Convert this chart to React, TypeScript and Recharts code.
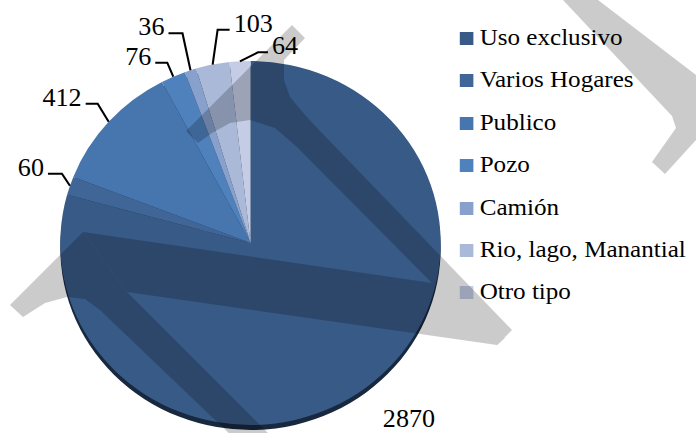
import React from "react"
import { PieChart, Pie, Cell, Legend } from "recharts"

// water supply categories and household counts
const categories = [
  "Uso exclusivo",
  "Varios Hogares",
  "Publico",
  "Pozo",
  "Camión",
  "Rio, lago, Manantial",
  "Otro tipo",
]
const households = [2870, 60, 412, 76, 36, 103, 64]

const COLORS = ["#385a86", "#3f6697", "#4775ad", "#4f81bd", "#87a0cc", "#aab9d8", "#c4cde5"]

// leader line elbows (image px): dx, dy from arc, horizontal run, side
const LABEL_NUDGE = [
  { dx: 17, dy: 39, len: 0, side: 1, line: false },
  { dx: -8, dy: -12, len: 14, side: -1, line: true },
  { dx: -11, dy: -18, len: 12, side: -1, line: true },
  { dx: -6, dy: -14, len: 12, side: -1, line: true },
  { dx: -8, dy: -37, len: 14, side: -1, line: true },
  { dx: 5, dy: -35, len: 12, side: 1, line: true },
  { dx: 18, dy: -9, len: 10, side: 1, line: true },
]

const SX = 1.045 // source picture is stretched horizontally
const W = 696
const H = 433
const RAD = Math.PI / 180
const FONT =
  '"Liberation Serif", "Times New Roman", Tinos, "Nimbus Roman", "Nimbus Roman No9 L", "Noto Serif", FreeSerif, "DejaVu Serif", serif'

const data = categories.map((name, i) => ({ name, value: households[i] }))

function renderLabel(props: any) {
  const { cx, cy, midAngle, outerRadius, index, value } = props
  const n = LABEL_NUDGE[index]
  const sx = cx + outerRadius * Math.cos(-midAngle * RAD)
  const sy = cy + outerRadius * Math.sin(-midAngle * RAD)
  const ex = sx + n.dx / SX
  const ey = sy + n.dy
  if (!n.line) {
    return (
      <text x={ex} y={ey} style={{ fontFamily: FONT, fontSize: 25 }} fill="#000" textAnchor="start">
        {value}
      </text>
    )
  }
  const hx = ex + (n.side * n.len) / SX
  const tx = hx + (n.side * 4) / SX
  return (
    <g>
      <polyline points={`${sx},${sy} ${ex},${ey} ${hx},${ey}`} fill="none" stroke="#000" strokeWidth={2} />
      <text
        x={tx}
        y={ey + 2}
        style={{ fontFamily: FONT, fontSize: 25 }}
        fill="#000"
        textAnchor={n.side < 0 ? "end" : "start"}
      >
        {value}
      </text>
    </g>
  )
}

// legend kept in the source order (recharts sorts it otherwise)
function renderLegend() {
  return (
    <div style={{ fontFamily: FONT, fontSize: 24, color: "#000" }}>
      {categories.map((name, i) => (
        <div key={name} style={{ display: "flex", alignItems: "flex-start", height: 42.4, whiteSpace: "nowrap" }}>
          <span
            style={{
              width: 12.5,
              height: 13,
              marginTop: 16,
              marginRight: 6.5,
              background: COLORS[i],
              flex: "none",
            }}
          />
          <span style={{ lineHeight: "42.4px" }}>{name}</span>
        </div>
      ))}
    </div>
  )
}

export default function App() {
  const innerW = W / SX
  const cx = 250.5 / SX
  const cy = 243
  return (
    <div style={{ position: "absolute", left: 0, top: 0, width: W, height: H, background: "#fff", overflow: "hidden" }}>
      <div style={{ width: innerW, height: H, transform: `scaleX(${SX})`, transformOrigin: "left top" }}>
        <PieChart width={innerW} height={H} margin={{ top: 0, right: 0, bottom: 0, left: 0 }}>
          <Pie
            data={data}
            dataKey="value"
            nameKey="name"
            cx={cx}
            cy={cy + 5}
            outerRadius={182}
            startAngle={90}
            endAngle={-270}
            stroke="none"
            fill="#18283e"
            legendType="none"
            isAnimationActive={false}
          />
          <Pie
            data={data}
            dataKey="value"
            nameKey="name"
            cx={cx}
            cy={cy}
            outerRadius={182}
            startAngle={90}
            endAngle={-270}
            stroke="none"
            label={renderLabel}
            labelLine={false}
            isAnimationActive={false}
          >
            {data.map((entry, index) => (
              <Cell key={`cell-${index}`} fill={COLORS[index % COLORS.length]} />
            ))}
          </Pie>
          <Legend
            layout="vertical"
            align="right"
            verticalAlign="top"
            content={renderLegend}
            wrapperStyle={{ position: "absolute", left: 440, top: 16, width: 226 }}
          />
        </PieChart>
      </div>
      {/* draft watermark over the page */}
      <svg width={W} height={H} style={{ position: "absolute", left: 0, top: 0, pointerEvents: "none" }}>
        <g fill="#000" opacity={0.2}>
          <polygon points="186,131 292,25 305,38 284,60 284,80 290,97 305,115 320,131 512,330 497,345 432,283 297,147 275,128 250,120 230,123 212,133 198,143" />
          <polygon points="83,232 432,283 505,338 497,345 127,292" />
          <polygon points="83,232 127,292 275,440 236,440 100,310 85,299 67,297 45,303 23,317 10,305" />
          <polygon points="563,0 598,0 696,75 696,140 665,174 652,162 676,128 672,116" />
        </g>
      </svg>
    </div>
  )
}
